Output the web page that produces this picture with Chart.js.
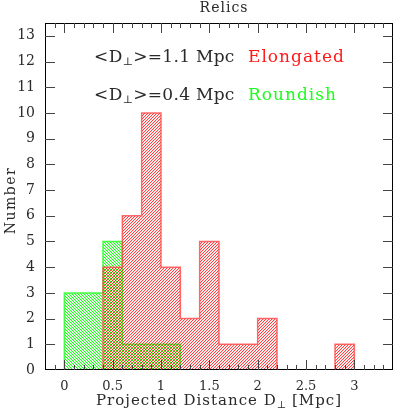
<!DOCTYPE html>
<html>
<head>
<meta charset="utf-8">
<script src="https://cdn.jsdelivr.net/npm/chart.js@4.4.1/dist/chart.umd.min.js"></script>
<style>
html,body{margin:0;padding:0;background:#fff;}
canvas{display:block;}
</style>
</head>
<body>
<canvas id="c" width="415" height="415"></canvas>
<script>
// ---- data ----
const elongEdges  = [0.4,0.6,0.8,1.0,1.2,1.4,1.6,1.8,2.0,2.2,2.4,2.6,2.8,3.0];
const elongCounts = [4,6,10,4,2,5,1,1,2,0,0,0,1];
const roundEdges  = [0.0,0.2,0.4,0.6,0.8,1.0,1.2];
const roundCounts = [3,3,5,1,1,1];
const xTickValues = [0,0.5,1,1.5,2,2.5,3];
const yTickValues = [0,1,2,3,4,5,6,7,8,9,10,11,12,13];
const titleText = "Relics";
const xTitle = ["Projected Distance D","\u22A5"," [Mpc]"];
const yTitle = "Number";
const annotations = [
  {pre:"<D", sub:"\u22A5", post:">=1.1 Mpc", label:"Elongated", color:"#ff1a1a"},
  {pre:"<D", sub:"\u22A5", post:">=0.4 Mpc", label:"Roundish", color:"#1aff1a"}
];

const FONT = "'DejaVu Serif', serif";
const TEXT = '#2a2a2a';

function histPoints(edges, counts){
  const pts = [{x:edges[0], y:0}];
  for (let i=0;i<counts.length;i++) pts.push({x:edges[i], y:counts[i]});
  pts.push({x:edges[edges.length-1], y:0});
  return pts;
}

function hatch(r,g,b,dir,main,side){
  const c = document.createElement('canvas');
  c.width = 3; c.height = 3;
  const x2 = c.getContext('2d');
  for (let i=0;i<3;i++){
    const y = dir === '/' ? (2 - i) : i;
    x2.fillStyle = `rgba(${r},${g},${b},${main})`;
    x2.fillRect(i, y, 1, 1);
    x2.fillStyle = `rgba(${r},${g},${b},${side})`;
    x2.fillRect((i+1)%3, y, 1, 1);
  }
  return document.getElementById('c').getContext('2d').createPattern(c, 'repeat');
}

function drawSegs(ctx, x, y, segs, align){
  let total = 0;
  const widths = segs.map(s => { ctx.font = s.size + "px " + FONT; ctx.letterSpacing = (s.ls||0)+"px"; const w = ctx.measureText(s.t).width; total += w; return w; });
  let cx = align === 'center' ? x - total/2 : x;
  ctx.textAlign = 'left';
  ctx.textBaseline = 'alphabetic';
  segs.forEach((s,i) => {
    ctx.font = s.size + "px " + FONT;
    ctx.letterSpacing = (s.ls||0)+"px";
    ctx.fillStyle = s.color || TEXT;
    ctx.fillText(s.t, cx, y + (s.dy||0));
    cx += widths[i];
  });
  ctx.letterSpacing = "0px";
}

const framePlugin = {
  id: 'frame',
  afterDraw(chart){
    const ctx = chart.ctx;
    const a = chart.chartArea;
    const xs = chart.scales.x, ys = chart.scales.y;
    ctx.save();
    ctx.strokeStyle = '#000';
    ctx.lineWidth = 1;
    ctx.strokeRect(Math.round(a.left)+0.5, Math.round(a.top)+0.5, Math.round(a.right-a.left)-1, Math.round(a.bottom-a.top)-1);
    ctx.beginPath();
    for (let k=-1;k<=33;k++){
      const v = k/10;
      const px = Math.round(xs.getPixelForValue(v)) + 0.5;
      const len = (k % 5 === 0) ? 10 : 5;
      ctx.moveTo(px, a.bottom); ctx.lineTo(px, a.bottom - len);
      ctx.moveTo(px, a.top); ctx.lineTo(px, a.top + len);
    }
    for (const v of yTickValues){
      if (v === 0) continue;
      const py = Math.round(ys.getPixelForValue(v)) + 0.5;
      ctx.moveTo(a.left, py); ctx.lineTo(a.left + 10, py);
      ctx.moveTo(a.right, py); ctx.lineTo(a.right - 10, py);
    }
    ctx.strokeStyle = '#444';
    ctx.stroke();

    drawSegs(ctx, 224, 12, [{t:titleText, size:14, ls:1}], 'center');
    drawSegs(ctx, (a.left+a.right)/2, 405, [
      {t:xTitle[0], size:15, ls:1},
      {t:xTitle[1], size:10, dy:3, ls:0},
      {t:xTitle[2], size:15, ls:1}
    ], 'center');
    ctx.save();
    ctx.translate(15, (a.top+a.bottom)/2 + 4);
    ctx.rotate(-Math.PI/2);
    drawSegs(ctx, 0, 0, [{t:yTitle, size:14, ls:1.5}], 'center');
    ctx.restore();
    const baselines = [62, 100];
    annotations.forEach((an,i) => {
      drawSegs(ctx, 94, baselines[i], [
        {t:an.pre, size:17, ls:0.5},
        {t:an.sub, size:11, dy:3, ls:0},
        {t:an.post, size:17, ls:0.3}
      ], 'left');
      drawSegs(ctx, 248, baselines[i], [{t:an.label, size:17, ls:1, color:an.color}], 'left');
    });
    ctx.restore();
  }
};

const ctx = document.getElementById('c').getContext('2d');
new Chart(ctx, {
  type: 'line',
  data: {
    datasets: [
      {
        label: 'Elongated',
        data: histPoints(elongEdges, elongCounts),
        stepped: true,
        borderColor: 'rgba(255,70,70,0.8)',
        borderWidth: 1.5,
        backgroundColor: hatch(255,0,0,'/',0.75,0.15),
        fill: 'origin',
        pointRadius: 0,
        tension: 0
      },
      {
        label: 'Roundish',
        data: histPoints(roundEdges, roundCounts),
        stepped: true,
        borderColor: 'rgba(40,255,40,0.85)',
        borderWidth: 1.5,
        backgroundColor: hatch(0,255,0,'\\',0.9,0.2),
        fill: 'origin',
        pointRadius: 0,
        tension: 0
      }
    ]
  },
  options: {
    responsive: false,
    animation: false,
    devicePixelRatio: 1,
    layout: { padding: { top: 23, right: 22, left: 0, bottom: 0 } },
    plugins: { legend: { display: false }, title: { display: false }, tooltip: { enabled: false } },
    scales: {
      x: {
        type: 'linear',
        min: -0.2, max: 3.4,
        grid: { display: false, drawTicks: false },
        border: { display: false },
        afterBuildTicks: s => { s.ticks = xTickValues.map(v => ({value: v})); },
        afterFit: s => { s.height = 45; },
        ticks: {
          padding: 9,
          maxRotation: 0,
          autoSkip: false,
          color: TEXT,
          font: { family: FONT, size: 13 },
          callback: v => String(v)
        }
      },
      y: {
        type: 'linear',
        min: 0, max: 13.5,
        grid: { display: false, drawTicks: false },
        border: { display: false },
        afterBuildTicks: s => { s.ticks = yTickValues.map(v => ({value: v})); },
        afterFit: s => { s.width = 45; },
        ticks: {
          padding: 10,
          autoSkip: false,
          color: TEXT,
          font: { family: FONT, size: 14 },
          callback: v => String(v)
        }
      }
    }
  },
  plugins: [framePlugin]
});
</script>
</body>
</html>
